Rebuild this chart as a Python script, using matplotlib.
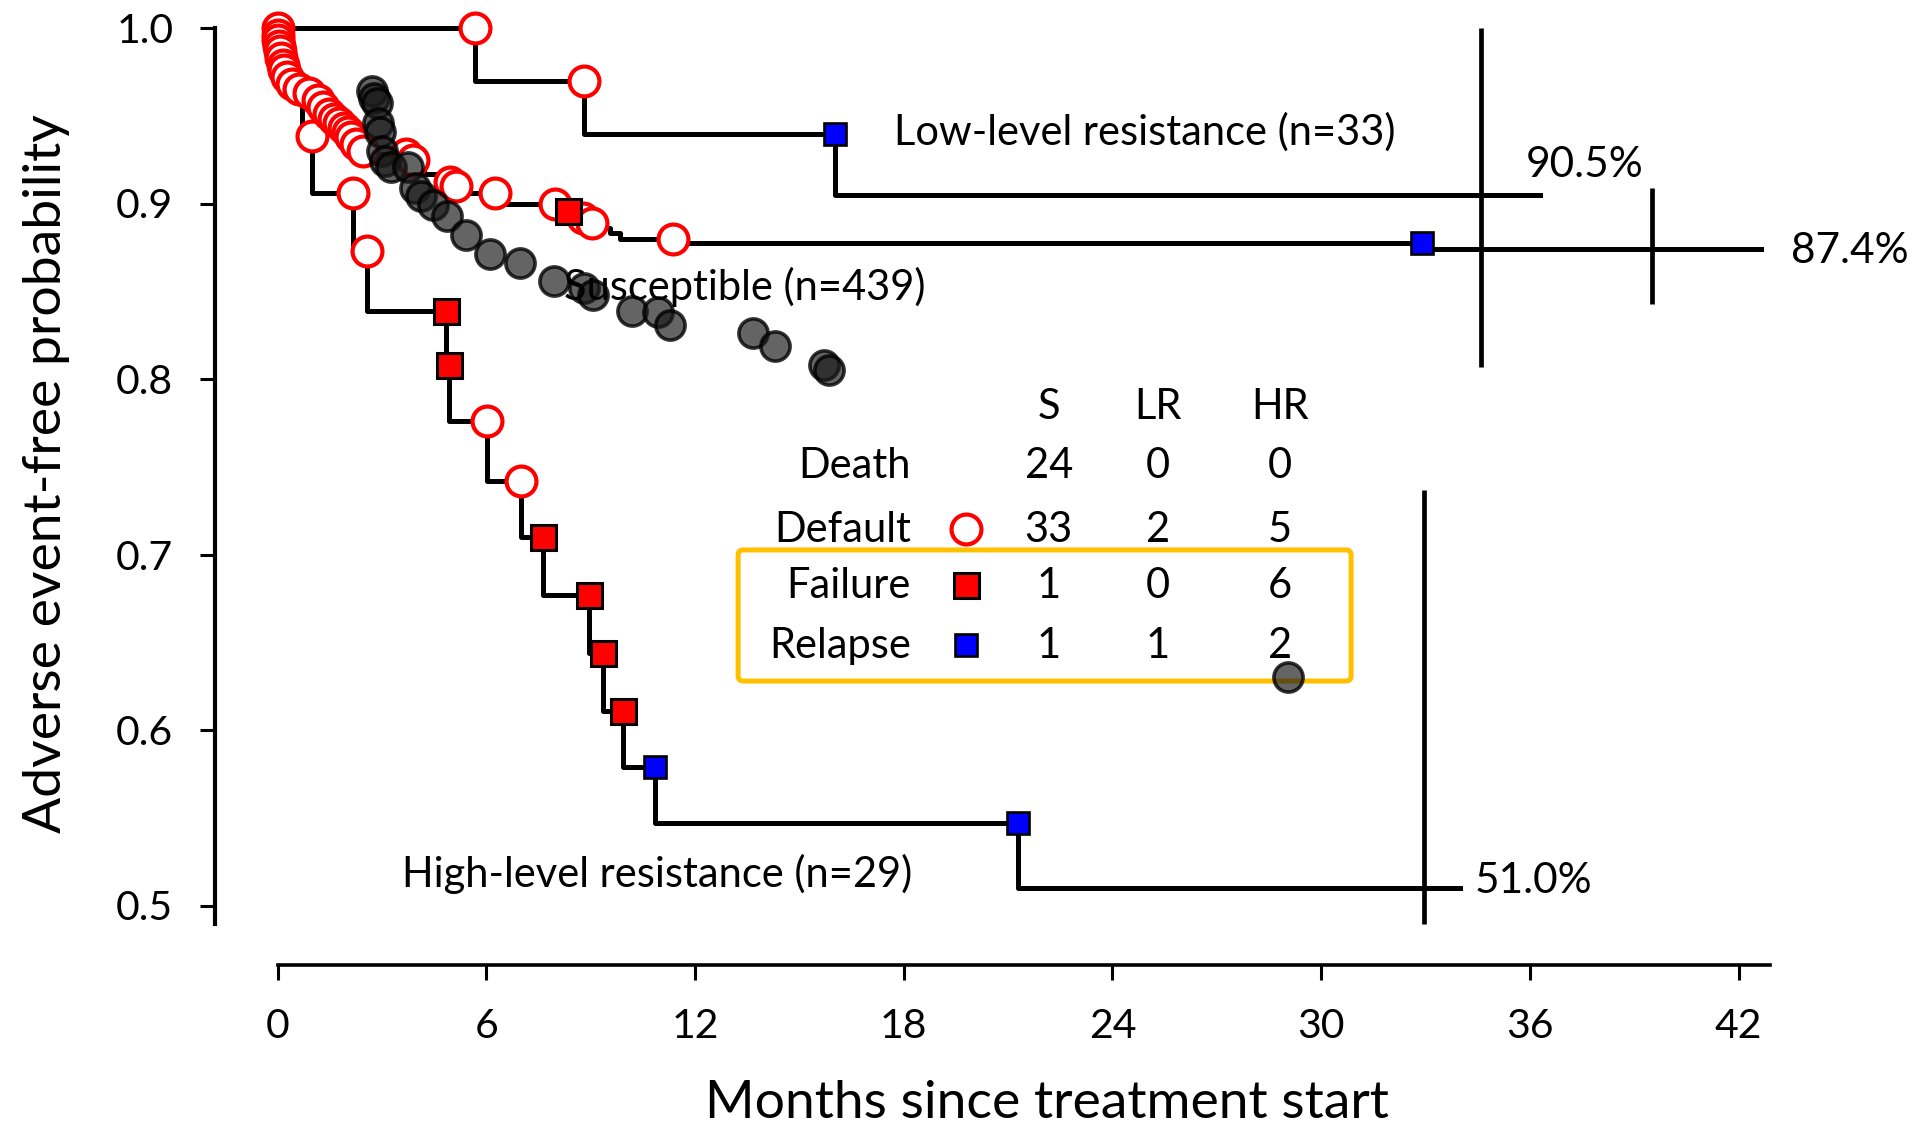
import matplotlib
matplotlib.use("Agg")
import matplotlib.pyplot as plt
from matplotlib.patches import FancyBboxPatch

plt.rcParams['font.family'] = ['Lato', 'DejaVu Sans']

# Kaplan-Meier style curves: event time (months), survival after event, event kind
# kinds: d = default, f = failure, r = relapse, '' = unmarked step
lr_time = [5.68, 8.80, 16.02]
lr_surv = [0.9697, 0.9394, 0.905]
lr_kind = ['d', 'd', 'r']
lr_end = 36.29

s_time = [0.00, 0.01, 0.02, 0.04, 0.06, 0.10, 0.15, 0.20, 0.28, 0.42, 0.62, 0.90,
          1.15, 1.30, 1.48, 1.62, 1.78, 1.92, 2.02, 2.12, 2.26, 2.45, 3.70, 3.90,
          4.20, 4.60, 4.96, 5.12, 5.50, 6.25, 7.98, 8.36, 8.79, 9.03, 9.56, 9.84,
          11.38, 32.90]
s_surv = [0.996, 0.993, 0.990, 0.987, 0.983, 0.979, 0.976, 0.972, 0.968, 0.965, 0.963, 0.959,
          0.955, 0.951, 0.948, 0.946, 0.943, 0.941, 0.938, 0.934, 0.930, 0.928, 0.925, 0.921,
          0.917, 0.912, 0.910, 0.908, 0.906, 0.900, 0.896, 0.892, 0.889, 0.886, 0.883, 0.880,
          0.8773, 0.874]
s_kind = ['d'] * 24 + ['', '', 'd', 'd', '', 'd', 'd', 'f', 'd', 'd', '', '', 'd', 'r']
s_end = 42.64

hr_time = [0.30, 0.70, 0.98, 2.16, 2.58, 4.83, 4.93, 6.03, 6.99, 7.62, 8.95, 9.37, 9.94, 10.85, 21.29]
hr_surv = [0.9655, 0.9385, 0.906, 0.873, 0.839, 0.808, 0.776, 0.742, 0.710, 0.677, 0.644, 0.611,
           0.579, 0.547, 0.510]
hr_kind = ['', '', 'd', 'd', 'd', 'f', 'f', 'd', 'd', 'f', 'f', 'f', 'f', 'r', 'r']
hr_end = 34.0

# deaths (grey circles)
death_time = [2.72, 2.76, 2.85, 2.88, 2.95, 3.00, 3.08, 3.25, 3.75, 3.95, 4.12, 4.48, 4.86,
              5.42, 6.10, 6.97, 7.95, 8.80, 9.08, 10.20, 10.95, 11.28, 13.67, 14.30, 15.72,
              15.84, 29.05]
death_prob = [0.964, 0.960, 0.957, 0.946, 0.941, 0.930, 0.924, 0.921, 0.921, 0.909, 0.904, 0.899, 0.893,
              0.882, 0.871, 0.866, 0.856, 0.852, 0.848, 0.839, 0.838, 0.831, 0.826, 0.819, 0.808,
              0.805, 0.630]

# confidence interval bars at the end of each curve: LR, S, HR
ci_time = [34.58, 39.52, 32.95]
ci_low = [0.807, 0.843, 0.4895]
ci_high = [1.0, 0.909, 0.737]

# event table
table_rows = ['Death', 'Default', 'Failure', 'Relapse']
table_cols = ['S', 'LR', 'HR']
table_S = [24, 33, 1, 1]
table_LR = [0, 2, 0, 1]
table_HR = [0, 5, 6, 2]

W, H = 1919, 1124
fig = plt.figure(figsize=(W / 100, H / 100), dpi=100)
ax = fig.add_axes([215 / W, 1 - 965 / H, (1780 - 215) / W, (965 - 10) / H])
x0, mpx = 277.5, 34.79
y1, ppx = 28.0, 1755.0
ax.set_xlim((215 - x0) / mpx, (1780 - x0) / mpx)
ax.set_ylim(1 - (965 - y1) / ppx, 1 - (10 - y1) / ppx)

for s in ['top', 'right']:
    ax.spines[s].set_visible(False)
ax.spines['left'].set_bounds(0.4895, 1.0)
ax.spines['bottom'].set_bounds(0, 42.9)
ax.spines['left'].set_linewidth(3)
ax.spines['bottom'].set_linewidth(2.6)
ax.set_xticks(range(0, 43, 6))
yt = [0.5, 0.6, 0.7, 0.8, 0.9, 1.0]
ax.set_yticks(yt)
ax.set_yticklabels(["{:.1f}".format(v) for v in yt])
ax.tick_params(axis='both', direction='out', length=11, width=2.2, labelsize=29.5)
ax.tick_params(axis='x', pad=20)
ax.tick_params(axis='y', pad=19)

styles = {
    'd': dict(marker='o', ms=21.5, mfc='white', mec='#FF0000', mew=3.0, zorder=3),
    'f': dict(marker='s', ms=18, mfc='#FF0000', mec='black', mew=2.2, zorder=4),
    'r': dict(marker='s', ms=15.8, mfc='#0000FF', mec='black', mew=1.9, zorder=4),
}


def draw_curve(times, surv, kinds, end):
    xs = [0] + times + [end]
    ys = [1.0] + surv + [surv[-1]]
    ax.plot(xs, ys, drawstyle='steps-post', color='black', lw=3.6, zorder=2)
    prev = [1.0] + surv[:-1]
    for k in ['d', 'f', 'r']:
        mx = [t for t, kk in zip(times, kinds) if kk == k]
        my = [p for p, kk in zip(prev, kinds) if kk == k]
        ax.plot(mx, my, ls='none', clip_on=False, **styles[k])


draw_curve(lr_time, lr_surv, lr_kind, lr_end)
draw_curve(hr_time, hr_surv, hr_kind, hr_end)
draw_curve(s_time, s_surv, s_kind, s_end)

ax.plot(death_time, death_prob, 'o', ls='none', ms=21, mfc=(0.1, 0.1, 0.1, 0.68),
        mec=(0, 0, 0, 0.8), mew=2.6, zorder=5)

ax.vlines(ci_time, ci_low, ci_high, color='black', lw=3.4, zorder=2, clip_on=False)

# curve labels
ax.text(17.72, 0.9333, "Low-level resistance (n=33)", fontsize=30, va='baseline', zorder=7)
ax.text(8.24, 0.845, "Susceptible (n=439)", fontsize=30, va='baseline', zorder=7)
ax.text(3.57, 0.5103, "High-level resistance (n=29)", fontsize=30, va='baseline', zorder=7)
ax.text(35.89, 0.9153, "{:.1f}%".format(lr_surv[-1] * 100), fontsize=30.5, va='baseline')
ax.text(43.5, 0.866, "{:.1f}%".format(s_surv[-1] * 100), fontsize=30.5, va='baseline', clip_on=False)
ax.text(34.42, 0.507, "{:.1f}%".format(hr_surv[-1] * 100), fontsize=30.5, va='baseline')

# event table
col_x = [22.17, 25.30, 28.82]
for cx, name in zip(col_x, table_cols):
    ax.text(cx, 0.777, name, fontsize=30, ha='center', va='baseline', zorder=7)
row_y = [0.7434, 0.7073, 0.6754, 0.6409]
row_kind = ['', 'd', 'f', 'r']
for ry, name, k, a, b, c in zip(row_y, table_rows, row_kind, table_S, table_LR, table_HR):
    ax.text(18.21, ry, name, fontsize=30, ha='right', va='baseline', zorder=7)
    for cx, v in zip(col_x, [a, b, c]):
        ax.text(cx, ry, str(v), fontsize=30, ha='center', va='baseline', zorder=7)
    if k:
        ax.plot([19.78], [ry + 0.0075], ls='none', **styles[k])

box = FancyBboxPatch((13.24, 0.6279), 30.86 - 13.24, 0.7026 - 0.6279,
                     boxstyle="round,pad=0,rounding_size=0.15", mutation_aspect=0.0198,
                     fill=False, ec='#FFC000', lw=3.6, zorder=4)
ax.add_patch(box)

fig.text(1047 / W, 1 - 1118 / H, "Months since treatment start", fontsize=38.5,
         ha='center', va='baseline')
fig.text(47 / W, 1 - 474 / H, "Adverse event-free probability", fontsize=38.5,
         rotation=90, ha='center', va='center')

fig.savefig("out.png", dpi=100)
